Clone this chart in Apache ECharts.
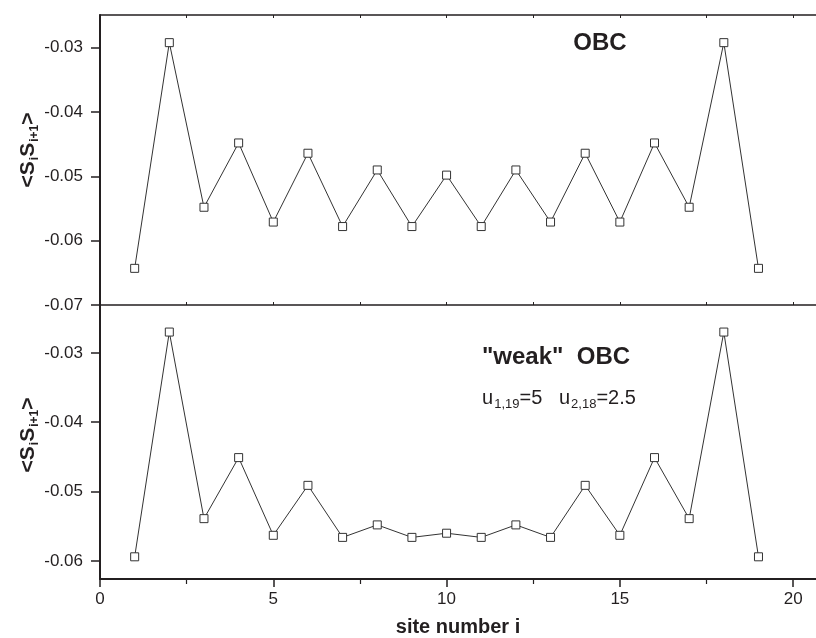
<!DOCTYPE html>
<html>
<head>
<meta charset="utf-8">
<style>
html,body{margin:0;padding:0;background:#fff}
#chart{width:816px;height:638px}
</style>
<script src="https://cdn.jsdelivr.net/npm/echarts@6/dist/echarts.min.js"></script>
</head>
<body>
<div id="chart"></div>
<script>
// site numbers and the two correlation curves
var sites = [1,2,3,4,5,6,7,8,9,10,11,12,13,14,15,16,17,18,19];
var obc = [-0.0643,-0.0292,-0.0548,-0.0448,-0.0571,-0.0464,-0.0578,-0.0490,-0.0578,-0.0498,
           -0.0578,-0.0490,-0.0571,-0.0464,-0.0571,-0.0448,-0.0548,-0.0292,-0.0643];
var weakObc = [-0.0594,-0.0270,-0.0539,-0.0451,-0.0563,-0.0491,-0.0566,-0.0548,-0.0566,-0.0560,
               -0.0566,-0.0548,-0.0566,-0.0491,-0.0563,-0.0451,-0.0539,-0.0270,-0.0594];
// tick labels
var xTicks = [0,5,10,15,20];
var xMinorTicks = [2.5,7.5,12.5,17.5];
var xEdgeTicks = [2.5,5,7.5,10,12.5,15,17.5,20];
var topYTicks = [-0.07,-0.06,-0.05,-0.04,-0.03];
var bottomYTicks = [-0.06,-0.05,-0.04,-0.03];

var FONT = 'Liberation Sans, Arial, Helvetica, sans-serif';
var INK = '#231f20';

function pairs(ys){
	var out = [];
	for(var i = 0; i < sites.length; i++){
		out.push([sites[i], ys[i]]);
	}
	return out;
}

function edgeAxis(grid, pos){
	return {
		type:'value', gridIndex:grid, position:pos, min:0, max:20.66,
		axisLine:{show:true, onZero:false, lineStyle:{color:INK, width:1.5}},
		axisTick:{show:true, inside:true, length:3, customValues:xEdgeTicks, lineStyle:{color:INK, width:1}},
		axisLabel:{show:false},
		splitLine:{show:false}
	};
}

function yAxis(grid, min, max, ticks){
	return {
		type:'value', gridIndex:grid, min:min, max:max,
		axisLine:{show:true, onZero:false, lineStyle:{color:INK, width:2}},
		axisTick:{show:true, inside:false, length:9, customValues:ticks, lineStyle:{color:INK, width:1.5}},
		axisLabel:{
			customValues:ticks, margin:17, fontSize:17, color:INK, fontFamily:FONT,
			formatter:function(v){ return v.toFixed(2); }
		},
		splitLine:{show:false}
	};
}

function lineSeries(xi, yi, ys){
	return {
		type:'line', xAxisIndex:xi, yAxisIndex:yi, data:pairs(ys),
		symbol:'rect', symbolSize:8,
		itemStyle:{color:'#fff', borderColor:'#333', borderWidth:1},
		lineStyle:{color:'#333', width:1},
		emphasis:{disabled:true}
	};
}

var yNameRich = {
	s:{fontSize:12, fontWeight:'bold', fontFamily:FONT, fill:INK, padding:[14,0,0,1]}
};

var chart = echarts.init(document.getElementById('chart'));
chart.setOption({
	animation:false,
	backgroundColor:'#fff',
	grid:[
		{left:100, right:0, top:15, height:290},
		{left:100, right:0, top:305, height:276}
	],
	xAxis:[
		edgeAxis(0,'bottom'),
		edgeAxis(0,'top'),
		{
			type:'value', gridIndex:1, position:'bottom', min:0, max:20.66,
			axisLine:{show:true, onZero:false, lineStyle:{color:INK, width:2}},
			axisTick:{show:true, inside:false, length:8, customValues:xTicks, lineStyle:{color:INK, width:1.5}},
			axisLabel:{customValues:xTicks, margin:12, fontSize:17, color:INK, fontFamily:FONT},
			splitLine:{show:false},
			name:'site number i', nameLocation:'middle', nameGap:38,
			nameTextStyle:{fontSize:20, fontWeight:'bold', color:INK, fontFamily:FONT}
		},
		{
			type:'value', gridIndex:1, position:'bottom', min:0, max:20.66,
			axisLine:{show:false, onZero:false},
			axisTick:{show:true, inside:false, length:5, customValues:xMinorTicks, lineStyle:{color:INK, width:1.2}},
			axisLabel:{show:false},
			splitLine:{show:false}
		}
	],
	yAxis:[
		yAxis(0, -0.07, -0.0249, topYTicks),
		yAxis(1, -0.0626, -0.0231, bottomYTicks)
	],
	series:[
		lineSeries(0, 0, obc),
		lineSeries(2, 1, weakObc)
	],
	graphic:[
		{type:'text', x:28, y:150, rotation:Math.PI/2,
			style:{text:'<S{s|i}S{s|i+1}>', rich:yNameRich, fontSize:21, fontWeight:'bold', fontFamily:FONT, fill:INK, align:'center', verticalAlign:'middle'}},
		{type:'text', x:28, y:435, rotation:Math.PI/2,
			style:{text:'<S{s|i}S{s|i+1}>', rich:yNameRich, fontSize:21, fontWeight:'bold', fontFamily:FONT, fill:INK, align:'center', verticalAlign:'middle'}},
		{type:'text', x:600, y:43,
			style:{text:'OBC', fontSize:24, fontWeight:'bold', fontFamily:FONT, fill:INK, align:'center', verticalAlign:'middle'}},
		{type:'text', x:556, y:357,
			style:{text:'"weak"  OBC', fontSize:24, fontWeight:'bold', fontFamily:FONT, fill:INK, align:'center', verticalAlign:'middle'}},
		{type:'text', x:559, y:398,
			style:{text:'u{s|1,19}=5   u{s|2,18}=2.5', fontSize:20, fontFamily:FONT, fill:INK, align:'center', verticalAlign:'middle',
				rich:{s:{fontSize:13, fontFamily:FONT, fill:INK, padding:[13,0,0,1]}}}}
	]
});
</script>
</body>
</html>
